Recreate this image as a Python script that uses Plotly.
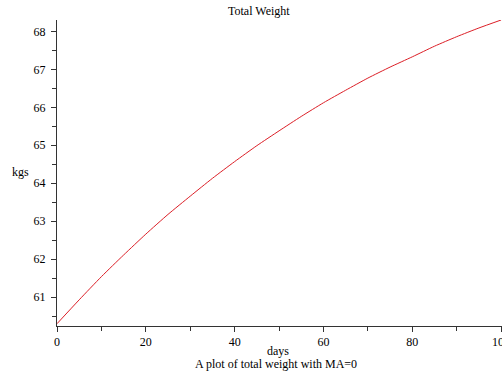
import plotly.graph_objects as go

days = [0, 5, 10, 15, 20, 25, 30, 35, 40, 45, 50, 55, 60, 65, 70, 75, 80, 85, 90, 95, 100]
weight = [60.30, 60.93, 61.54, 62.11, 62.66, 63.18, 63.66, 64.13, 64.57, 64.99, 65.38,
          65.76, 66.12, 66.45, 66.77, 67.06, 67.33, 67.61, 67.86, 68.09, 68.30]

x_ticks = [0, 20, 40, 60, 80, 100]
y_ticks = [61, 62, 63, 64, 65, 66, 67, 68]

title_text = "Total Weight"
x_label = "days"
y_label = "kgs"
subtitle = "A plot of total weight with MA=0"

W, H = 502, 375
L, R, T, B = 57, 0, 20, 49
pw, ph = W - L - R, H - T - B

def px_x(px):
    return (px - L) / pw

def px_y(py):
    return (H - B - py) / ph

font = dict(family="Liberation Serif, Times New Roman, serif", size=12, color="#000000")

fig = go.Figure()
fig.add_trace(go.Scatter(x=days, y=weight, mode="lines",
                         line=dict(color="#dc1e26", width=1, shape="spline", smoothing=0.6),
                         hoverinfo="skip"))

axis_common = dict(showline=True, linecolor="#333333", linewidth=1, showgrid=False,
                   zeroline=False, ticks="outside", ticklen=5, tickwidth=1,
                   tickcolor="#333333", tickfont=font, automargin=False)

fig.update_layout(
    width=W, height=H,
    margin=dict(l=L, r=R, t=T, b=B),
    paper_bgcolor="white", plot_bgcolor="white",
    showlegend=False,
    font=font,
    xaxis=dict(range=[0, 100.2], tickvals=x_ticks,
               minor=dict(ticks="outside", ticklen=4, tickcolor="#333333", dtick=10, showgrid=False),
               **axis_common),
    yaxis=dict(range=[60.24, 68.30], tickvals=y_ticks,
               ticklabelstandoff=3,
               minor=dict(ticks="outside", ticklen=4, tickcolor="#333333", dtick=0.5, showgrid=False),
               **axis_common),
    annotations=[
        dict(text=title_text, x=px_x(259), y=px_y(11), xref="paper", yref="paper",
             showarrow=False, font=font, xanchor="center", yanchor="middle"),
        dict(text=x_label, x=px_x(278), y=px_y(351), xref="paper", yref="paper",
             showarrow=False, font=font, xanchor="center", yanchor="middle"),
        dict(text=subtitle, x=px_x(276), y=px_y(364), xref="paper", yref="paper",
             showarrow=False, font=font, xanchor="center", yanchor="middle"),
        dict(text=y_label, x=px_x(20), y=px_y(172), xref="paper", yref="paper",
             showarrow=False, font=font, xanchor="center", yanchor="middle"),
        dict(text=str(x_ticks[-1]), x=x_ticks[-1], y=px_y(342), xref="x", yref="paper",
             showarrow=False, font=font, xanchor="center", yanchor="middle"),
    ],
)

fig.write_html("out.html")
